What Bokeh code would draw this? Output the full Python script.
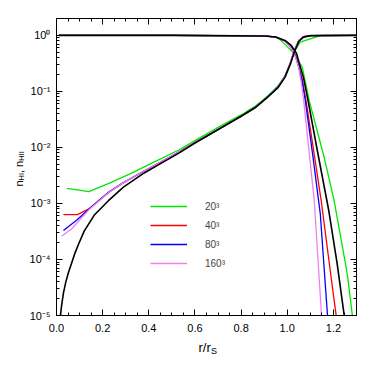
import math
from bokeh.plotting import figure
from bokeh.models import (FixedTicker, LinearAxis, LogAxis, CustomJSTickFormatter,
                          PrintfTickFormatter, Label, Legend, LegendItem, Range1d)
from bokeh.embed import file_html
from bokeh.resources import INLINE

# ---------------- data ----------------
# ionised fraction n_HII
r_hii_black = [0.016, 0.022, 0.03, 0.04, 0.052, 0.065, 0.08, 0.095, 0.12, 0.165, 0.225, 0.29,
               0.38, 0.46, 0.53, 0.60, 0.71, 0.80, 0.86, 0.91, 0.96, 0.99, 1.015, 1.03, 1.05,
               1.07, 1.10, 1.30]
n_hii_black = [9.0e-6, 1.5e-5, 2.5e-5, 3.9e-5, 5.9e-5, 8.5e-5, 1.3e-4, 1.85e-4, 3.2e-4, 6.3e-4,
               1.12e-3, 1.95e-3, 3.5e-3, 5.4e-3, 7.9e-3, 1.2e-2, 2.2e-2, 3.6e-2, 5.1e-2, 7.6e-2,
               0.117, 0.178, 0.32, 0.50, 0.78, 0.93, 0.99, 1.0]

r_hii_20 = [0.045, 0.14, 0.23, 0.33, 0.42, 0.53, 0.60, 0.71, 0.80, 0.86, 0.91, 0.96, 0.99,
            1.015, 1.035, 1.056, 1.147, 1.30]
n_hii_20 = [1.86e-3, 1.62e-3, 2.3e-3, 3.55e-3, 5.4e-3, 9.0e-3, 1.32e-2, 2.4e-2, 3.8e-2, 5.4e-2,
            7.9e-2, 0.126, 0.19, 0.33, 0.55, 0.76, 1.0, 1.0]

r_hii_40 = [0.03, 0.09, 0.143, 0.225, 0.29, 0.38, 0.46, 0.53, 0.60, 0.71, 0.80, 0.86, 0.91,
            0.96, 0.99, 1.015, 1.03, 1.05, 1.07, 1.10, 1.30]
n_hii_40 = [6.3e-4, 6.3e-4, 8.1e-4, 1.55e-3, 2.35e-3, 3.8e-3, 5.7e-3, 8.3e-3, 1.22e-2, 2.2e-2,
            3.6e-2, 5.1e-2, 7.6e-2, 0.12, 0.185, 0.33, 0.52, 0.80, 0.94, 0.99, 1.0]

r_hii_80 = [0.03, 0.087, 0.143, 0.225, 0.29, 0.38, 0.46, 0.53, 0.60, 0.71, 0.80, 0.86, 0.91,
            0.96, 0.99, 1.015, 1.03, 1.05, 1.07, 1.10, 1.30]
n_hii_80 = [3.3e-4, 5.0e-4, 8.1e-4, 1.58e-3, 2.35e-3, 3.8e-3, 5.7e-3, 8.3e-3, 1.22e-2, 2.2e-2,
            3.6e-2, 5.1e-2, 7.6e-2, 0.12, 0.185, 0.34, 0.53, 0.81, 0.95, 0.99, 1.0]

r_hii_160 = [0.022, 0.065, 0.143, 0.225, 0.29, 0.38, 0.46, 0.53, 0.60, 0.71, 0.80, 0.86, 0.91,
             0.96, 0.99, 1.015, 1.03, 1.05, 1.07, 1.10, 1.30]
n_hii_160 = [2.6e-4, 3.5e-4, 7.9e-4, 1.55e-3, 2.35e-3, 3.8e-3, 5.7e-3, 8.3e-3, 1.22e-2, 2.2e-2,
             3.6e-2, 5.1e-2, 7.6e-2, 0.12, 0.185, 0.34, 0.54, 0.82, 0.95, 0.99, 1.0]

# neutral fraction n_HI
r_hi_black = [0.01, 0.5, 0.9, 0.95, 0.99, 1.017, 1.04, 1.052, 1.07, 1.09, 1.13, 1.18, 1.216, 1.25]
n_hi_black = [1.0, 1.0, 0.977, 0.933, 0.813, 0.661, 0.479, 0.316, 0.178, 0.069, 8.9e-3, 7.4e-4,
              8.5e-5, 8.0e-6]

r_hi_20 = [0.01, 0.5, 0.9, 0.95, 0.97, 1.0, 1.03, 1.065, 1.095, 1.16, 1.203, 1.255, 1.262, 1.285]
n_hi_20 = [1.0, 1.0, 0.99, 0.933, 0.83, 0.63, 0.47, 0.27, 0.069, 6.6e-3, 1.12e-3, 7.2e-5,
           4.8e-5, 8.0e-6]

r_hi_40 = [0.01, 0.5, 0.9, 0.95, 0.99, 1.015, 1.035, 1.05, 1.065, 1.081, 1.11, 1.147, 1.19, 1.215]
n_hi_40 = [1.0, 1.0, 0.977, 0.93, 0.8, 0.63, 0.45, 0.28, 0.16, 0.069, 1.15e-2, 1.12e-3, 4.8e-5,
           8.0e-6]

r_hi_80 = [0.01, 0.5, 0.9, 0.95, 0.99, 1.015, 1.035, 1.05, 1.065, 1.078, 1.11, 1.143, 1.176]
n_hi_80 = [1.0, 1.0, 0.977, 0.93, 0.8, 0.62, 0.43, 0.27, 0.15, 0.069, 7.5e-3, 6.6e-4, 8.0e-6]

r_hi_160 = [0.01, 0.5, 0.9, 0.95, 0.99, 1.015, 1.035, 1.05, 1.06, 1.071, 1.095, 1.117, 1.15]
n_hi_160 = [1.0, 1.0, 0.977, 0.93, 0.8, 0.62, 0.42, 0.26, 0.15, 0.069, 8.0e-3, 1.12e-3, 8.0e-6]

legend_labels = ["20\u00b3", "40\u00b3", "80\u00b3", "160\u00b3"]
x_ticks = [0.0, 0.2, 0.4, 0.6, 0.8, 1.0, 1.2]
y_ticks = [1e-5, 1e-4, 1e-3, 1e-2, 1e-1, 1e0]

# ---------------- figure ----------------
FONT = "Liberation Sans"
p = figure(width=374, height=374, x_range=Range1d(0.0, 1.3), y_range=Range1d(1e-5, 2.0),
           y_axis_type="log", output_backend="svg", toolbar_location=None,
           min_border_left=56, min_border_right=18, min_border_top=18, min_border_bottom=59)
p.grid.visible = False
p.outline_line_color = "black"
p.outline_line_width = 1
p.background_fill_color = "white"
p.border_fill_color = "white"

x_minor = [round(i * 0.05, 2) for i in range(0, 27)]
y_minor = []
for d in range(-5, 1):
    for k in range(2, 10):
        v = k * 10.0 ** d
        if v <= 2.0:
            y_minor.append(v)

sup_js = """
const sup = {"0":"\u2070","1":"\u00b9","2":"\u00b2","3":"\u00b3","4":"\u2074","5":"\u2075",
             "6":"\u2076","7":"\u2077","8":"\u2078","9":"\u2079","-":"\u207b"};
const e = Math.round(Math.log10(tick));
return "10" + String(e).split("").map(c => sup[c]).join("");
"""

def style_axis(ax):
    ax.axis_line_color = "black"
    ax.major_tick_in = 6
    ax.major_tick_out = 0
    ax.minor_tick_in = 3
    ax.minor_tick_out = 0
    ax.major_tick_line_color = "black"
    ax.minor_tick_line_color = "black"
    ax.major_label_text_font = FONT
    ax.major_label_text_color = "black"
    ax.major_label_text_font_size = "11px"

xa = p.xaxis[0]
xa.ticker = FixedTicker(ticks=x_ticks, minor_ticks=x_minor)
xa.formatter = PrintfTickFormatter(format="%.1f")
style_axis(xa)
xa.major_label_standoff = 8

ya = p.yaxis[0]
ya.ticker = FixedTicker(ticks=y_ticks, minor_ticks=y_minor)
ya.formatter = CustomJSTickFormatter(code=sup_js)
style_axis(ya)
ya.major_label_standoff = 6

# mirrored ticks on top / right: axes carrying only tick marks (no labels)
def tick_only(axis_cls, positions, length, side):
    ax = axis_cls(ticker=FixedTicker(ticks=[], minor_ticks=positions))
    ax.axis_line_color = "black"
    ax.major_tick_in = 0
    ax.major_tick_out = 0
    ax.minor_tick_in = length
    ax.minor_tick_out = 0
    ax.minor_tick_line_color = "black"
    ax.major_label_standoff = 0
    p.add_layout(ax, side)

tick_only(LinearAxis, x_ticks, 6, "above")
tick_only(LinearAxis, x_minor, 3, "above")
tick_only(LogAxis, y_ticks, 6, "right")
tick_only(LogAxis, y_minor, 3, "right")

# ---------------- curves ----------------
series = [
    (r_hii_20, n_hii_20, r_hi_20, n_hi_20, "#00e600"),
    (r_hii_40, n_hii_40, r_hi_40, n_hi_40, "#ff0000"),
    (r_hii_80, n_hii_80, r_hi_80, n_hi_80, "#0000ff"),
    (r_hii_160, n_hii_160, r_hi_160, n_hi_160, "#f080f0"),
]
legend_renderers = []
for rh, nh, ri, ni, col in series:
    p.line(rh, nh, line_color=col, line_width=1.3)
    rr = p.line(ri, ni, line_color=col, line_width=1.3)
    legend_renderers.append(rr)

p.line(r_hii_black, n_hii_black, line_color="black", line_width=1.6)
p.line(r_hi_black, n_hi_black, line_color="black", line_width=1.6)

items = [LegendItem(label=t, renderers=[r]) for t, r in zip(legend_labels, legend_renderers)]
legend = Legend(items=items, location=(94, 46), border_line_color=None,
                background_fill_alpha=0, glyph_width=37, glyph_height=12, label_height=12,
                label_standoff=18, spacing=7, padding=0, margin=0,
                label_text_font=FONT, label_text_font_size="10px")
p.add_layout(legend)

# ---------------- axis titles (with subscripts) ----------------
# Placed in side panels (so they are not clipped to the frame), at canvas pixel positions.
def lab(text, x, y, size, side, angle=0.0):
    p.add_layout(Label(x=x, y=y, x_units="canvas", y_units="canvas", text=text,
                       text_font=FONT, text_font_size=size, text_color="black",
                       angle=angle, text_align="left", text_baseline="alphabetic"), side)

A = math.pi / 2
# y title: n_HI, n_HII (rotated, reading upwards)
lab("n", 18, 186, "11px", "left", A)
lab("HI", 21, 180, "7.5px", "right", A)
lab(", n", 18, 172.5, "11px", "left", A)
lab("HII", 21, 160.3, "7.5px", "right", A)
# x title: r/r_S
lab("r/r", 198.0, 347, "13px", "below")
lab("S", 210.5, 350, "9px", "above")

open("out.html", "w").write(file_html(p, INLINE))
